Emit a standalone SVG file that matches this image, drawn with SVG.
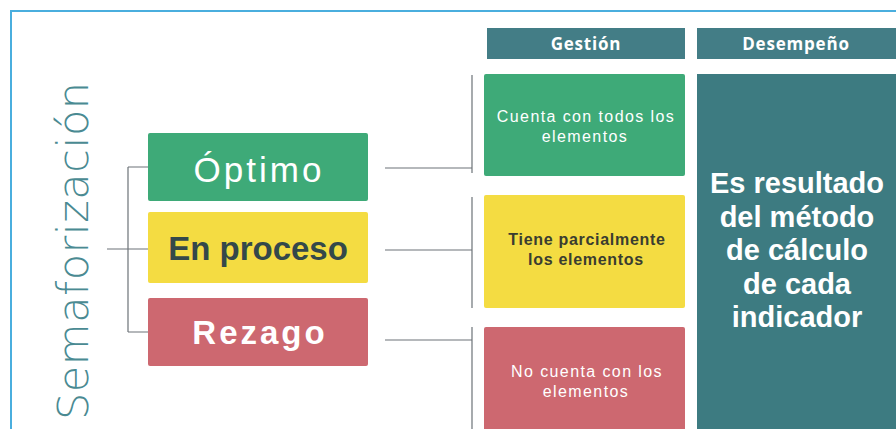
<svg xmlns="http://www.w3.org/2000/svg" width="896" height="429" viewBox="0 0 896 429">
<style>
.lbl{font-family:"Liberation Sans",Arial,sans-serif;text-anchor:middle}
.b{font-weight:bold}
.sm{font-size:16px;letter-spacing:1.4px}
.smb{font-size:16px;font-weight:bold;letter-spacing:0.7px}
.hdr{font-family:"Open Sans","Liberation Sans",sans-serif;font-weight:bold;font-size:17px;fill:#ffffff;text-anchor:middle}
.ln{stroke:#6d7378;stroke-width:1.2;fill:none}
</style>
<rect width="896" height="429" fill="#ffffff"/>
<path d="M11 429 V11 H896" fill="none" stroke="#4aaede" stroke-width="2"/>
<g id="title">
<text transform="translate(88,420) rotate(-90)" font-family="'DejaVu Sans','Open Sans','Liberation Sans',sans-serif" font-weight="200" font-size="43" fill="#4a8a92" textLength="338" lengthAdjust="spacing">Semaforización</text>
</g>
<g id="connectors">
<path class="ln" d="M107 249 H148 M128 167 V332 M128 167 H148 M128 332 H148"/>
<path class="ln" d="M385 168 H472 M472 75 V173"/>
<path class="ln" d="M385 250 H472 M472 197 V308"/>
<path class="ln" d="M385 340 H472 M472 327 V429"/>
</g>
<g id="optimo">
<rect x="148" y="133" width="220" height="68" rx="2" fill="#3eaa78"/>
<text class="lbl" x="259" y="182" font-size="35" letter-spacing="3" fill="#ffffff">Óptimo</text>
</g>
<g id="enproceso">
<rect x="148" y="212" width="220" height="71" rx="2" fill="#f4dc42"/>
<text class="lbl b" x="258" y="260" font-size="33" fill="#34484a">En proceso</text>
</g>
<g id="rezago">
<rect x="148" y="298" width="220" height="68" rx="2" fill="#cd6870"/>
<text class="lbl b" x="260" y="344" font-size="33" letter-spacing="3" fill="#ffffff">Rezago</text>
</g>
<g id="hdr-gestion">
<rect x="487" y="28" width="198" height="31" fill="#437d86"/>
<text class="hdr" x="586" y="50" letter-spacing="0.8">Gestión</text>
</g>
<g id="hdr-desempeno">
<rect x="697" y="28" width="199" height="31" fill="#437d86"/>
<text class="hdr" x="796" y="50" letter-spacing="0.8">Desempeño</text>
</g>
<g id="g-optimo">
<rect x="484" y="74" width="201" height="102" rx="2" fill="#3eaa78"/>
<text class="lbl sm" x="586" y="122" fill="#ffffff">Cuenta con todos los</text>
<text class="lbl sm" x="585" y="142" fill="#ffffff">elementos</text>
</g>
<g id="g-proceso">
<rect x="484" y="195" width="201" height="113" rx="2" fill="#f4dc42"/>
<text class="lbl smb" x="587" y="245" fill="#3a3d30">Tiene parcialmente</text>
<text class="lbl smb" x="586" y="265" fill="#3a3d30">los elementos</text>
</g>
<g id="g-rezago">
<rect x="484" y="327" width="201" height="110" rx="2" fill="#cd6870"/>
<text class="lbl sm" x="587" y="377" fill="#ffffff">No cuenta con los</text>
<text class="lbl sm" x="586" y="397" fill="#ffffff">elementos</text>
</g>
<g id="desempeno">
<rect x="697" y="74" width="199" height="363" fill="#3d7b81"/>
<g class="lbl b" font-size="29" fill="#ffffff">
<text x="797" y="193">Es resultado</text>
<text x="797" y="227">del método</text>
<text x="797" y="260">de cálculo</text>
<text x="797" y="294">de cada</text>
<text x="797" y="327">indicador</text>
</g>
</g>
</svg>
